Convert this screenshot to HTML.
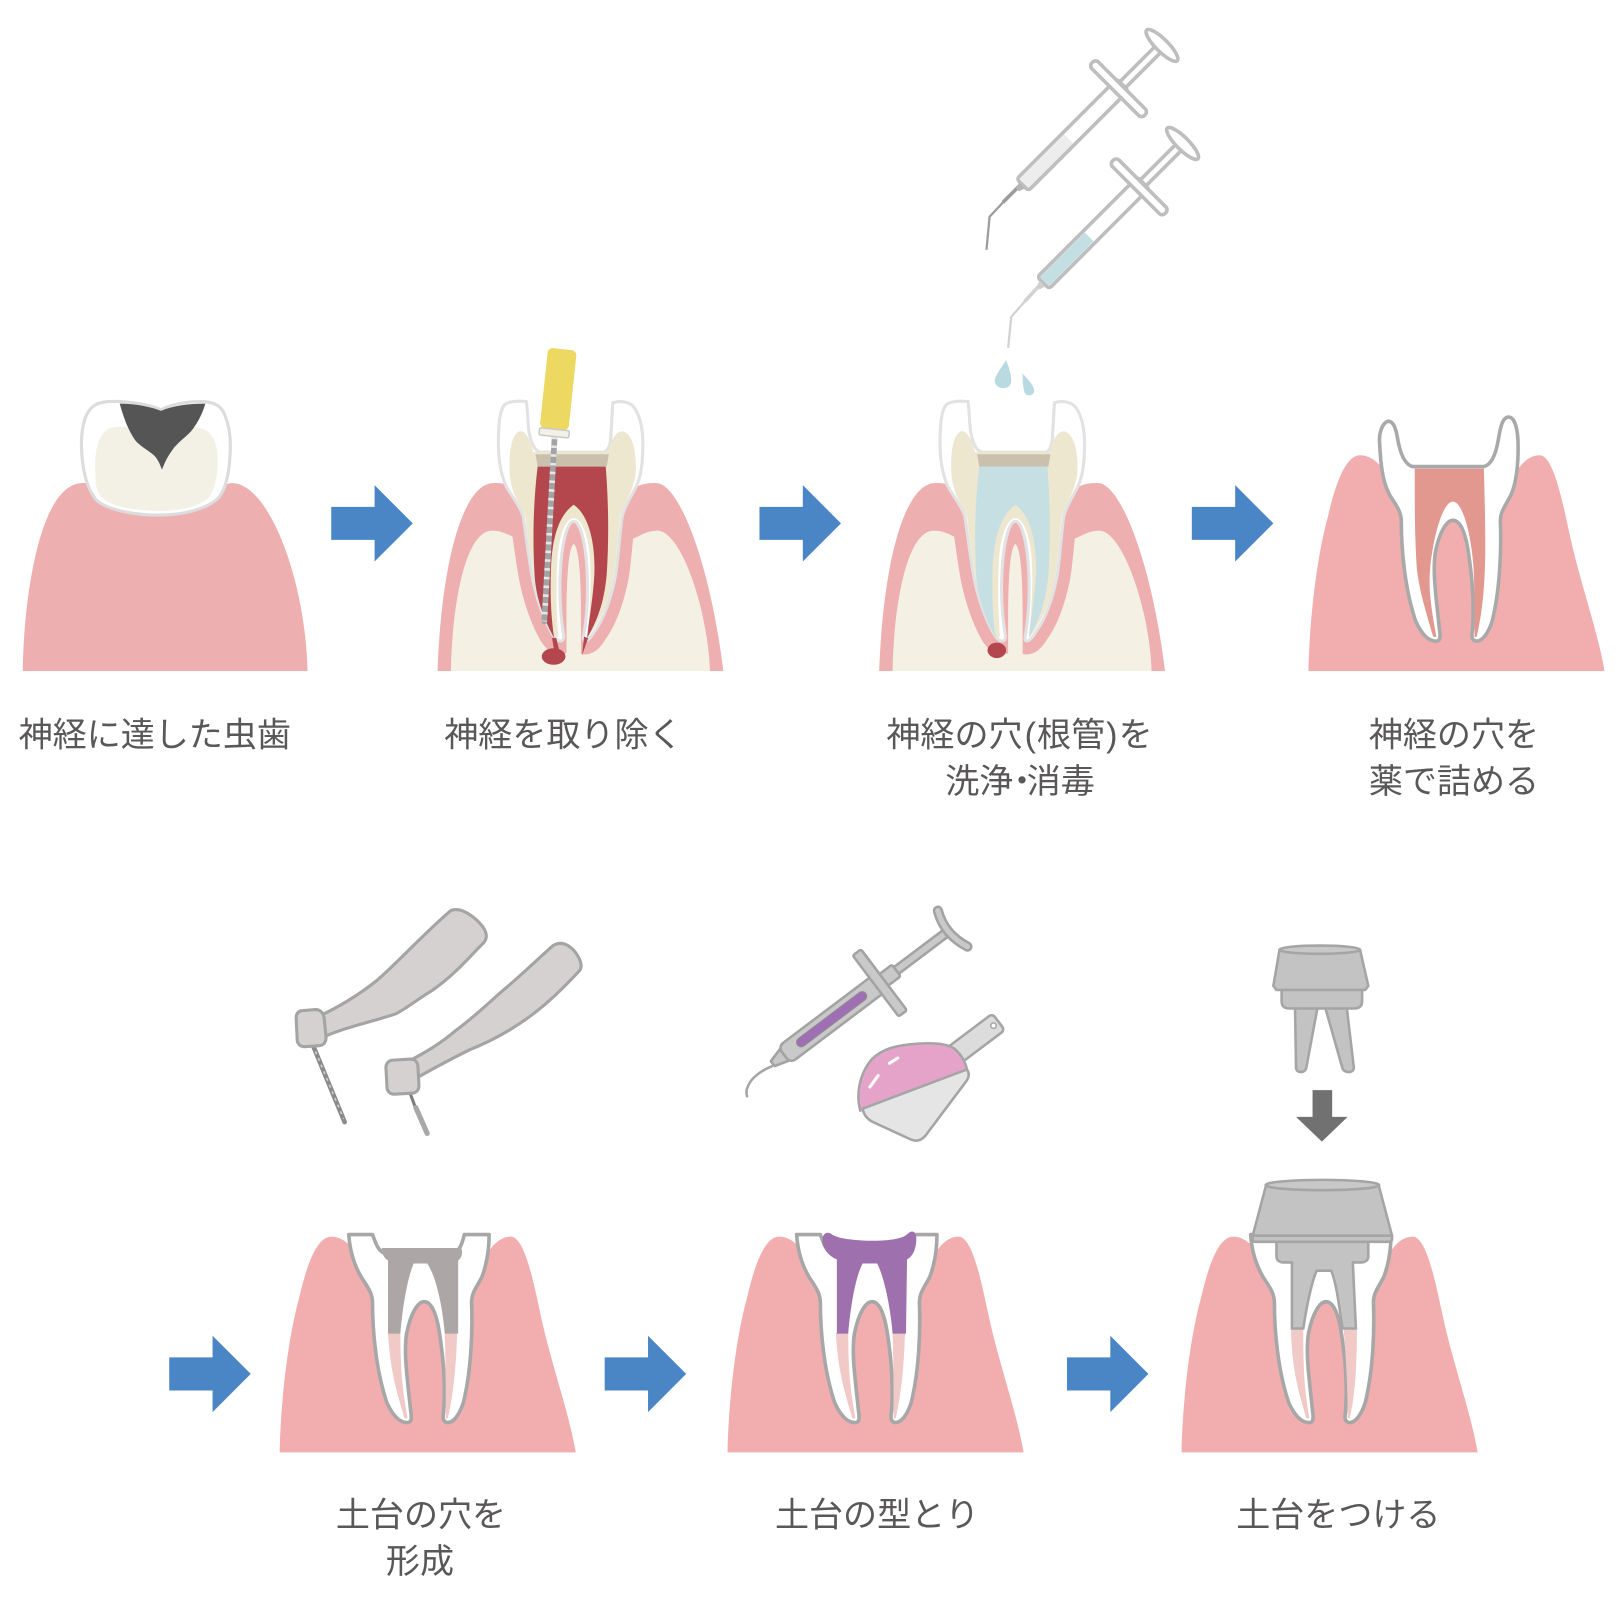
<!DOCTYPE html>
<html><head><meta charset="utf-8"><style>
html,body{margin:0;padding:0;background:#fff;}
svg{display:block;}
text{font-family:"Liberation Sans","Noto Sans CJK JP",sans-serif;font-size:33px;fill:#595757;}
</style></head><body>
<svg width="1618" height="1600" viewBox="0 0 1568 1550" preserveAspectRatio="none" xmlns="http://www.w3.org/2000/svg">
<defs>
<clipPath id="below"><rect x="0" y="476" width="1568" height="200"/></clipPath>
</defs>

<!-- ============ Tooth 1 ============ -->
<path fill="#EEAFB0" d="M22,650 C23,580 38,470 79,468 C95,467 103,478 110,488 L200,488 C208,478 215,468 225,468 C260,468 296,560 298,650 Z"/>
<path fill="#fff" stroke="#DCDCDC" stroke-width="3" d="M79,436 C78,410 84,395 95,391 C103,388 110,389 117,389 C130,390 145,392 156,397 C165,392 180,389 195,389 C205,389 212,392 216,398 C222,410 224,425 223,440 C222,460 218,475 212,482 C200,494 175,499 153,499 C130,499 105,494 94,485 C84,474 80,455 79,436 Z"/>
<path fill="#F3F1E6" d="M93,470 C91,445 92,425 104,416 C110,413 120,413 130,414 L190,414 C205,415 211,428 211,445 C211,465 207,478 200,484 C190,492 172,495 153,495 C133,495 110,491 101,484 C96,480 94,476 93,470 Z"/>
<path fill="#555555" d="M116,391 C131,391 146,394 156,398 C168,393 183,391 199,391 C196,402 190,412 185,418 C178,425 171,430 167,436 C161,444 159,450 157,455 C155,450 153,444 148,440 C140,434 133,430 130,425 C124,416 120,405 116,391 Z"/>

<!-- ============ Tooth 2 ============ -->
<g>
<path fill="#EEAFB0" d="M424,650 C428,540 450,468 478,468 C500,467 515,480 520,500 L590,500 C600,480 615,467 636,468 C658,468 688,545 701,650 Z"/>
<path fill="#F4F1E4" d="M437,650 C438,590 450,514 477,514 C495,514 505,530 510,520 L600,520 C610,530 620,514 637,514 C660,514 686,590 688,650 Z"/>
<path clip-path="url(#below)" fill="none" stroke="#EEAFB0" stroke-width="26" stroke-linejoin="round" d="M510,389 C512,400 511,410 513,420 C515,430 518,437 524,438 L585,438 C590,437 592,430 592,420 C593,410 593,400 594,390 C602,388 609,389 614,394 C620,402 623,415 623,430 C623,445 622,458 618,468 C613,480 606,488 603,500 C600,520 599,545 596,560 C592,580 585,600 576,612 C573,617 570,621 567,621 C565,621 565,618 566,614 C569,595 570,575 569,555 C568,530 563,505 556,505 C549,505 544,530 543,555 C542,575 543,595 546,614 C547,618 546,621 543,621 C540,621 537,617 535,614 C527,600 520,580 516,560 C513,545 510,520 507,500 C503,488 495,480 490,470 C485,458 483,445 483,430 C483,412 484,398 489,392 C493,389 500,388 510,389 Z"/>
<path fill="#F4F1E4" d="M549,645 L549,595 C549,560 551,530 556,527 C561,530 563,560 563,595 L563,645 Z"/>
<path fill="#fff" stroke="#E2E2E2" stroke-width="3" d="M510,389 C512,400 511,410 513,420 C515,430 518,437 524,438 L585,438 C590,437 592,430 592,420 C593,410 593,400 594,390 C602,388 609,389 614,394 C620,402 623,415 623,430 C623,445 622,458 618,468 C613,480 606,488 603,500 C600,520 599,545 596,560 C592,580 585,600 576,612 C573,617 570,621 567,621 C565,621 565,618 566,614 C569,595 570,575 569,555 C568,530 563,505 556,505 C549,505 544,530 543,555 C542,575 543,595 546,614 C547,618 546,621 543,621 C540,621 537,617 535,614 C527,600 520,580 516,560 C513,545 510,520 507,500 C503,488 495,480 490,470 C485,458 483,445 483,430 C483,412 484,398 489,392 C493,389 500,388 510,389 Z"/>
<path fill="#EDE7D0" d="M494,459 C493,440 495,422 503,418 C510,416 514,428 517,438 L589,438 C592,428 596,417 604,418 C614,421 617,440 616,459 C614,475 606,486 601,500 C598,525 597,548 594,562 C590,582 583,600 570,617 L569,617 C572,590 573,565 572,545 C571,520 564,502 556,502 C548,502 541,520 540,545 C539,565 539,590 541,617 L537,617 C527,600 521,580 518,562 C515,545 512,525 509,500 C503,487 495,477 494,459 Z"/>
<path fill="#C9C1AE" d="M519,440 L590,440 L588,452 L521,452 Z"/>
<path fill="#B4474D" d="M521,452 L587,452 C590,490 590,525 588,556 C586,580 580,600 569,618 C571,598 575,578 576,556 C577,530 572,500 556,489 C540,500 535,525 534,550 C533,575 534,598 537,618 C527,600 519,578 518,556 C516,520 517,485 521,452 Z"/>
<path fill="#B4474D" d="M535,618 L539,618 L542,630 L537,630 Z"/>
<path fill="#B4474D" d="M566,617 L570,618 L564,635 Z"/>
<ellipse cx="536.5" cy="636" rx="11.5" ry="8" fill="#B4474D"/>
<!-- file -->
<line x1="537.5" y1="423" x2="527.5" y2="602" stroke="#A3A3A3" stroke-width="5.5" stroke-linecap="round"/>
<line x1="537.5" y1="423" x2="527.5" y2="602" stroke="#E6E6E6" stroke-width="5.5" stroke-dasharray="2.5 6"/>
<g transform="rotate(6 541 377)">
<rect x="527" y="338" width="28" height="78" rx="5" fill="#EDD862"/>
<rect x="527" y="416" width="29" height="7" rx="1.5" fill="#F3F0E8" stroke="#C9C9C9" stroke-width="1.5"/>
</g>
</g>

<!-- ============ Tooth 3 ============ -->
<g transform="translate(428,0)">
<path fill="#EEAFB0" d="M424,650 C428,540 450,468 478,468 C500,467 515,480 520,500 L590,500 C600,480 615,467 636,468 C658,468 688,545 701,650 Z"/>
<path fill="#F4F1E4" d="M437,650 C438,590 450,514 477,514 C495,514 505,530 510,520 L600,520 C610,530 620,514 637,514 C660,514 686,590 688,650 Z"/>
<path clip-path="url(#below)" fill="none" stroke="#EEAFB0" stroke-width="26" stroke-linejoin="round" d="M510,389 C512,400 511,410 513,420 C515,430 518,437 524,438 L585,438 C590,437 592,430 592,420 C593,410 593,400 594,390 C602,388 609,389 614,394 C620,402 623,415 623,430 C623,445 622,458 618,468 C613,480 606,488 603,500 C600,520 599,545 596,560 C592,580 585,600 576,612 C573,617 570,621 567,621 C565,621 565,618 566,614 C569,595 570,575 569,555 C568,530 563,505 556,505 C549,505 544,530 543,555 C542,575 543,595 546,614 C547,618 546,621 543,621 C540,621 537,617 535,614 C527,600 520,580 516,560 C513,545 510,520 507,500 C503,488 495,480 490,470 C485,458 483,445 483,430 C483,412 484,398 489,392 C493,389 500,388 510,389 Z"/>
<path fill="#F4F1E4" d="M549,645 L549,595 C549,560 551,530 556,527 C561,530 563,560 563,595 L563,645 Z"/>
<path fill="#fff" stroke="#E2E2E2" stroke-width="3" d="M510,389 C512,400 511,410 513,420 C515,430 518,437 524,438 L585,438 C590,437 592,430 592,420 C593,410 593,400 594,390 C602,388 609,389 614,394 C620,402 623,415 623,430 C623,445 622,458 618,468 C613,480 606,488 603,500 C600,520 599,545 596,560 C592,580 585,600 576,612 C573,617 570,621 567,621 C565,621 565,618 566,614 C569,595 570,575 569,555 C568,530 563,505 556,505 C549,505 544,530 543,555 C542,575 543,595 546,614 C547,618 546,621 543,621 C540,621 537,617 535,614 C527,600 520,580 516,560 C513,545 510,520 507,500 C503,488 495,480 490,470 C485,458 483,445 483,430 C483,412 484,398 489,392 C493,389 500,388 510,389 Z"/>
<path fill="#EDE7D0" d="M494,459 C493,440 495,422 503,418 C510,416 514,428 517,438 L589,438 C592,428 596,417 604,418 C614,421 617,440 616,459 C614,475 606,486 601,500 C598,525 597,548 594,562 C590,582 583,600 570,617 L569,617 C572,590 573,565 572,545 C571,520 564,502 556,502 C548,502 541,520 540,545 C539,565 539,590 541,617 L537,617 C527,600 521,580 518,562 C515,545 512,525 509,500 C503,487 495,477 494,459 Z"/>
<path fill="#C9C1AE" d="M519,440 L590,440 L588,452 L521,452 Z"/>
<path fill="#C5DFE3" d="M521,452 L587,452 C590,490 590,525 588,556 C586,580 580,600 569,618 C571,598 575,578 576,556 C577,530 572,500 556,489 C540,500 535,525 534,550 C533,575 534,598 537,618 C527,600 519,578 518,556 C516,520 517,485 521,452 Z"/>
<ellipse cx="538" cy="630" rx="9" ry="7.5" fill="#B4474D"/>
</g>

<!-- syringes -->
<path d="M987,181 L972,196" stroke="#9C9C9C" stroke-width="3.5" fill="none"/>
<path d="M973,195 L959,210 L956,242" stroke="#9C9C9C" stroke-width="2.2" fill="none" stroke-linejoin="round"/>
<g transform="translate(991,179) rotate(-45)">
<rect x="136" y="-4" width="52" height="8" fill="#fff" stroke="#BEBEBE" stroke-width="3.5"/>
<ellipse cx="191" cy="0" rx="6" ry="21" fill="#fff" stroke="#BEBEBE" stroke-width="3.5"/>
<rect x="0" y="-8" width="137" height="16" rx="3" fill="#fff" stroke="#BEBEBE" stroke-width="3.5"/>
<rect x="2" y="-6" width="61" height="12" fill="#EDEDED"/>
<rect x="127" y="-36" width="9" height="72" rx="4" fill="#fff" stroke="#BEBEBE" stroke-width="3.5"/>
<path d="M-1,-4 L-7,-2 L-7,2 L-1,4 Z" fill="#B5B5B5"/>
</g>
<path d="M1007,277 L993,292" stroke="#D2D2D2" stroke-width="3.5" fill="none"/>
<path d="M994,291 L980,307 L977,337" stroke="#D2D2D2" stroke-width="2.2" fill="none" stroke-linejoin="round"/>
<g transform="translate(1011,274) rotate(-45)">
<rect x="136" y="-4" width="52" height="8" fill="#fff" stroke="#BEBEBE" stroke-width="3.5"/>
<ellipse cx="191" cy="0" rx="6" ry="21" fill="#fff" stroke="#BEBEBE" stroke-width="3.5"/>
<rect x="0" y="-8" width="137" height="16" rx="3" fill="#fff" stroke="#BEBEBE" stroke-width="3.5"/>
<rect x="2" y="-6" width="61" height="12" fill="#C4DFE4"/>
<rect x="127" y="-36" width="9" height="72" rx="4" fill="#fff" stroke="#BEBEBE" stroke-width="3.5"/>
<path d="M-1,-4 L-7,-2 L-7,2 L-1,4 Z" fill="#D0D0D0"/>
</g>
<path fill="#B9DAE0" d="M975,349 C969,358 964,365 964,369 C964,373 968,376 972,376 C977,376 980,373 980,369 C980,363 978,356 975,349 Z"/>
<path fill="#B9DAE0" d="M991,362 C996,367 1001,373 1002,377 C1003,381 1000,383 997,383 C994,383 992,380 992,376 C991,372 991,367 991,362 Z"/>

<!-- ============ Tooth 4 ============ -->
<g transform="translate(1268,650)">
<path fill="#F2AEAE" d="M0,0 C1,-50 8,-110 19,-150 C27,-185 37,-209 50,-209 C70,-209 85,-180 95,-150 L185,-150 C192,-180 205,-209 224,-209 C238,-209 247,-160 253,-133 C262,-90 280,-40 287,0 Z"/>
<path fill="#fff" stroke="#A9A9A9" stroke-width="3.5" stroke-linejoin="round" d="M77,-242 C72,-240 68,-232 69,-220 C70,-200 72,-182 79,-170 C84,-162 90,-155 90,-145 C90,-120 93,-80 104,-48 C110,-35 117,-28 125,-29 C128,-30 128,-34 127,-40 C124,-70 120,-95 123,-115 C127,-135 134,-146 140,-146 C147,-146 152,-135 155,-115 C158,-95 161,-70 159,-40 C158,-34 158,-30 162,-29 C168,-28 174,-36 178,-48 C186,-80 187,-120 186,-145 C186,-155 191,-160 196,-170 C201,-180 204,-200 203,-225 C202,-238 199,-246 194,-246 C188,-246 186,-236 184,-224 C182,-212 178,-200 170,-198 L101,-198 C93,-200 89,-212 87,-222 C85,-234 83,-242 77,-242 Z"/>
<path fill="#E2978F" d="M103,-196 L170,-196 C171,-160 172,-120 171,-100 C170,-70 167,-50 163,-33 L161,-33 C161,-60 161,-80 160,-100 C158,-130 150,-164 140,-164 C130,-164 121,-130 118,-100 C116,-80 119,-60 124,-33 L121,-33 C113,-60 107,-80 105,-100 C103,-130 103,-160 103,-196 Z"/>
</g>

<!-- arrows row 1 -->
<path fill="#4A86C6" d="M321,491 L363,491 L363,470 L400,507 L363,544 L363,523 L321,523 Z"/>
<path fill="#4A86C6" d="M736,491 L778,491 L778,470 L815,507 L778,544 L778,523 L736,523 Z"/>
<path fill="#4A86C6" d="M1155,491 L1197,491 L1197,470 L1234,507 L1197,544 L1197,523 L1155,523 Z"/>

<!-- labels row 1 -->
<text x="150" y="723" text-anchor="middle">神経に達した虫歯</text>
<text x="546" y="723" text-anchor="middle">神経を取り除く</text>
<text y="723"><tspan x="859">神経の穴</tspan><tspan x="993">(</tspan><tspan x="1005">根管</tspan><tspan x="1072">)</tspan><tspan x="1084">を</tspan></text>
<text y="768"><tspan x="916">洗浄</tspan><tspan x="974">・</tspan><tspan x="995">消毒</tspan></text>
<text x="1409" y="723" text-anchor="middle">神経の穴を</text>
<text x="1409" y="768" text-anchor="middle">薬で詰める</text>

<!-- ============ Row 2 ============ -->
<!-- handpieces -->
<line x1="303" y1="1012" x2="334" y2="1087" stroke="#8A8A8A" stroke-width="4.5" stroke-linecap="round"/>
<line x1="303" y1="1012" x2="333" y2="1084" stroke="#D0D0D0" stroke-width="1.5" stroke-dasharray="3 4"/>
<path fill="#D5D1D1" stroke="#A4A4A4" stroke-width="3" stroke-linejoin="round" d="M437,882 C448,878 462,890 468,898 C473,905 472,911 467,915 C455,927 440,945 418,960 C405,968 395,976 384,982 C360,990 335,995 315,1004 L306,986 C330,975 350,962 365,950 C385,933 410,905 437,882 Z"/>
<path fill="#D5D1D1" stroke="#A4A4A4" stroke-width="3" stroke-linejoin="round" d="M287,986 C287,981 290,979 294,979 L306,978 C310,978 313,981 314,985 L316,1005 C316,1010 313,1013 309,1013 L295,1014 C291,1014 288,1011 288,1007 Z"/>
<line x1="397" y1="1058" x2="403" y2="1074" stroke="#7E7E7E" stroke-width="3"/>
<line x1="403" y1="1073" x2="414" y2="1098" stroke="#A8A8A8" stroke-width="5" stroke-linecap="round"/>
<path fill="#D5D1D1" stroke="#A4A4A4" stroke-width="3" stroke-linejoin="round" d="M536,916 C546,910 556,918 561,928 C564,934 564,938 561,941 C548,955 533,970 517,982 C500,995 480,1007 455,1017 C435,1027 420,1035 406,1043 L398,1027 C415,1018 428,1010 442,998 C460,985 475,970 488,959 C505,945 520,930 536,916 Z"/>
<path fill="#D5D1D1" stroke="#A4A4A4" stroke-width="3" stroke-linejoin="round" d="M374,1034 C374,1030 377,1027 381,1027 L398,1026 C402,1026 405,1029 405,1033 L406,1052 C406,1056 403,1059 399,1059 L382,1060 C378,1060 375,1057 375,1053 Z"/>

<!-- impression syringe -->
<path d="M748,1033 C738,1037 728,1044 725,1052 C723,1056 723,1059 724,1062" stroke="#A5A5A5" stroke-width="2.5" fill="none" stroke-linecap="round"/>
<g transform="translate(760,1022) rotate(-37)">
<rect x="134" y="-4" width="66" height="8" fill="#C9C9C9" stroke="#A3A3A3" stroke-width="2.5"/>
<path d="M0,-7 L-14,-3 L-14,3 L0,7 Z" fill="#C8C8C8" stroke="#A3A3A3" stroke-width="2.5" stroke-linejoin="round"/>
<rect x="0" y="-10" width="118" height="20" rx="6" fill="#C9C9C9" stroke="#A3A3A3" stroke-width="2.5"/>
<rect x="16" y="-4.5" width="83" height="9" rx="4.5" fill="#A06EB4" stroke="#8E8E8E" stroke-width="1"/>
<rect x="118" y="-7" width="18" height="14" rx="2" fill="#C9C9C9" stroke="#A3A3A3" stroke-width="2.5"/>
<rect x="111" y="-37" width="10" height="74" rx="2" fill="#C9C9C9" stroke="#A3A3A3" stroke-width="2.5"/>
<path d="M203,-22 Q194,0 205,23" fill="none" stroke="#A3A3A3" stroke-width="10" stroke-linecap="round"/>
<path d="M203,-22 Q194,0 205,23" fill="none" stroke="#C9C9C9" stroke-width="5" stroke-linecap="round"/>
</g>

<!-- impression tray -->
<g transform="translate(927,1020.6) rotate(-37)">
<rect x="-6" y="-10" width="57" height="20" rx="4" fill="#DCDCDC" stroke="#A5A5A5" stroke-width="2.5"/>
<circle cx="44.8" cy="0" r="2.6" fill="#fff" stroke="#A5A5A5" stroke-width="1.5"/>
</g>
<path fill="#E5A3C9" d="M834,1077 C829,1060 833,1040 845,1026 C855,1016 870,1012 890,1011 C905,1010 918,1011 925,1016 C932,1022 936,1030 937,1036 L836,1074 Z"/>
<path fill="#E5E5E5" stroke="#A5A5A5" stroke-width="2.5" stroke-linejoin="round" d="M836,1074 L937,1036 C940,1040 939,1044 936,1048 L897,1100 C893,1105 888,1106 883,1104 L846,1087 C840,1084 837,1080 836,1074 Z"/>
<path fill="none" stroke="#A5A5A5" stroke-width="2.5" d="M834,1077 C829,1060 833,1040 845,1026 C855,1016 870,1012 890,1011 C905,1010 918,1011 925,1016 C932,1022 936,1030 937,1036"/>
<path d="M851,1042 L843,1053" stroke="#fff" stroke-width="3" stroke-linecap="round"/>
<path d="M870,1025 L862,1030" stroke="#fff" stroke-width="3" stroke-linecap="round"/>

<!-- floating post -->
<path fill="#C3C3C3" stroke="#A5A5A5" stroke-width="2.5" stroke-linejoin="round" d="M1255,975 L1277,975 L1266,1034 C1265,1040 1257,1040 1256,1035 Z"/>
<path fill="#C3C3C3" stroke="#A5A5A5" stroke-width="2.5" stroke-linejoin="round" d="M1284,975 L1305,975 L1312,1034 C1312,1040 1303,1040 1301,1035 Z"/>
<path fill="#C3C3C3" stroke="#A5A5A5" stroke-width="2.5" stroke-linejoin="round" d="M1242,958 L1320,958 L1320,970 C1320,975 1317,977 1312,977 L1250,977 C1245,977 1242,975 1242,970 Z"/>
<path fill="#C3C3C3" stroke="#A5A5A5" stroke-width="2.5" stroke-linejoin="round" d="M1240,920 L1318,920 L1326,955 L1323,959 L1237,959 L1234,955 Z"/>
<ellipse cx="1279" cy="920" rx="39" ry="4" fill="#C8C8C8" stroke="#A5A5A5" stroke-width="2.5"/>
<path fill="#717171" d="M1272,1056 L1291,1056 L1291,1082 L1306,1082 L1281,1106 L1256,1082 L1272,1082 Z"/>

<!-- Tooth 5 -->
<g transform="translate(271,1407)">
<path fill="#F2AEAE" d="M0,0 C1,-50 8,-110 19,-150 C27,-185 37,-209 50,-209 C70,-209 85,-180 95,-150 L185,-150 C192,-180 205,-209 224,-209 C238,-209 247,-160 253,-133 C262,-90 280,-40 287,0 Z"/>
<path fill="#fff" stroke="#A7A7A7" stroke-width="3.5" stroke-linejoin="round" d="M67,-211 L90,-211 C93,-203 95,-196 101,-193 L169,-193 C175,-196 177,-203 179,-211 L203,-211 C203,-195 200,-180 196,-170 C191,-160 186,-155 186,-145 C187,-120 186,-80 178,-48 C174,-36 168,-28 162,-29 C158,-30 158,-34 159,-40 C161,-70 158,-95 155,-115 C152,-135 147,-146 140,-146 C134,-146 127,-135 123,-115 C120,-95 124,-70 127,-40 C128,-34 128,-30 125,-29 C117,-28 110,-35 104,-48 C93,-80 90,-120 90,-145 C90,-155 84,-162 79,-170 C72,-182 68,-196 67,-211 Z"/>
<path fill="#F1C9C6" d="M105,-116 L117,-116 C117,-80 119,-60 124,-33 L121,-33 C113,-60 107,-80 105,-116 Z"/>
<path fill="#F1C9C6" d="M160,-116 L172,-116 C171,-80 168,-55 163,-33 L161,-33 C161,-60 161,-85 160,-116 Z"/>
<path fill="#ACA6A6" d="M99,-198 L176,-198 C178,-193 176,-188 173,-186 L173,-115 L160,-115 C158,-140 152,-170 143,-183 L130,-183 C124,-170 119,-140 117,-115 L105,-115 L105,-186 C101,-188 99,-193 99,-198 Z"/>
</g>
<path fill="#4A86C6" d="M164,1315 L206,1315 L206,1294 L243,1331 L206,1368 L206,1347 L164,1347 Z"/>

<!-- Tooth 6 -->
<g transform="translate(705,1407)">
<path fill="#F2AEAE" d="M0,0 C1,-50 8,-110 19,-150 C27,-185 37,-209 50,-209 C70,-209 85,-180 95,-150 L185,-150 C192,-180 205,-209 224,-209 C238,-209 247,-160 253,-133 C262,-90 280,-40 287,0 Z"/>
<path fill="#fff" stroke="#A7A7A7" stroke-width="3.5" stroke-linejoin="round" d="M67,-211 L90,-211 C93,-203 95,-196 101,-193 L169,-193 C175,-196 177,-203 179,-211 L203,-211 C203,-195 200,-180 196,-170 C191,-160 186,-155 186,-145 C187,-120 186,-80 178,-48 C174,-36 168,-28 162,-29 C158,-30 158,-34 159,-40 C161,-70 158,-95 155,-115 C152,-135 147,-146 140,-146 C134,-146 127,-135 123,-115 C120,-95 124,-70 127,-40 C128,-34 128,-30 125,-29 C117,-28 110,-35 104,-48 C93,-80 90,-120 90,-145 C90,-155 84,-162 79,-170 C72,-182 68,-196 67,-211 Z"/>
<path fill="#F1C9C6" d="M105,-116 L117,-116 C117,-80 119,-60 124,-33 L121,-33 C113,-60 107,-80 105,-116 Z"/>
<path fill="#F1C9C6" d="M160,-116 L172,-116 C171,-80 168,-55 163,-33 L161,-33 C161,-60 161,-85 160,-116 Z"/>
<path fill="#9E71AE" d="M92,-205 C92,-212 96,-214 100,-212 C105,-208 115,-206 135,-205 C160,-205 170,-207 175,-212 C179,-216 183,-214 183,-207 C183,-198 180,-190 174,-187 L173,-115 L160,-115 C158,-140 152,-170 145,-183 L131,-183 C124,-170 119,-140 117,-115 L106,-115 L106,-187 C98,-190 92,-198 92,-205 Z"/>
</g>
<path fill="#4A86C6" d="M586,1315 L628,1315 L628,1294 L665,1331 L628,1368 L628,1347 L586,1347 Z"/>

<!-- Tooth 7 -->
<g transform="translate(1145,1407)">
<path fill="#F2AEAE" d="M0,0 C1,-50 8,-110 19,-150 C27,-185 37,-209 50,-209 C70,-209 85,-180 95,-150 L185,-150 C192,-180 205,-209 224,-209 C238,-209 247,-160 253,-133 C262,-90 280,-40 287,0 Z"/>
<path fill="#fff" stroke="#A7A7A7" stroke-width="3.5" stroke-linejoin="round" d="M67,-211 L90,-211 C93,-203 95,-196 101,-193 L169,-193 C175,-196 177,-203 179,-211 L203,-211 C203,-195 200,-180 196,-170 C191,-160 186,-155 186,-145 C187,-120 186,-80 178,-48 C174,-36 168,-28 162,-29 C158,-30 158,-34 159,-40 C161,-70 158,-95 155,-115 C152,-135 147,-146 140,-146 C134,-146 127,-135 123,-115 C120,-95 124,-70 127,-40 C128,-34 128,-30 125,-29 C117,-28 110,-35 104,-48 C93,-80 90,-120 90,-145 C90,-155 84,-162 79,-170 C72,-182 68,-196 67,-211 Z"/>
<path fill="#F1C9C6" d="M106,-121 L118,-121 C118,-80 119,-60 124,-33 L121,-33 C113,-60 107,-80 106,-121 Z"/>
<path fill="#F1C9C6" d="M157,-121 L170,-121 C170,-80 168,-55 163,-33 L161,-33 C161,-60 160,-85 157,-121 Z"/>
<path fill="#C3C3C3" stroke="#A5A5A5" stroke-width="2.5" stroke-linejoin="round" d="M92,-205 L181,-205 L181,-190 C181,-186 178,-184 174,-184 L166,-184 L169,-120 L156,-120 C153,-140 150,-165 145,-176 L131,-176 C126,-165 121,-140 118,-120 L107,-120 L107,-184 L99,-184 C95,-184 92,-186 92,-190 Z"/>
<path fill="#C3C3C3" stroke="#A5A5A5" stroke-width="2.5" stroke-linejoin="round" d="M69,-210 L204,-210 L204,-206 C204,-205 203,-204 202,-204 L71,-204 C70,-204 69,-205 69,-206 Z"/>
<path fill="#C3C3C3" stroke="#A5A5A5" stroke-width="2.5" stroke-linejoin="round" d="M82,-259 L191,-259 L204,-210 L69,-210 Z"/>
<ellipse cx="136.5" cy="-259" rx="55" ry="5" fill="#C8C8C8" stroke="#A5A5A5" stroke-width="2.5"/>
</g>
<path fill="#4A86C6" d="M1034,1315 L1076,1315 L1076,1294 L1113,1331 L1076,1368 L1076,1347 L1034,1347 Z"/>

<!-- labels row 2 -->
<text x="408" y="1479" text-anchor="middle">土台の穴を</text>
<text x="407" y="1524" text-anchor="middle">形成</text>
<text x="850" y="1479" text-anchor="middle">土台の型とり</text>
<text x="1297" y="1479" text-anchor="middle">土台をつける</text>
</svg>
</body></html>
